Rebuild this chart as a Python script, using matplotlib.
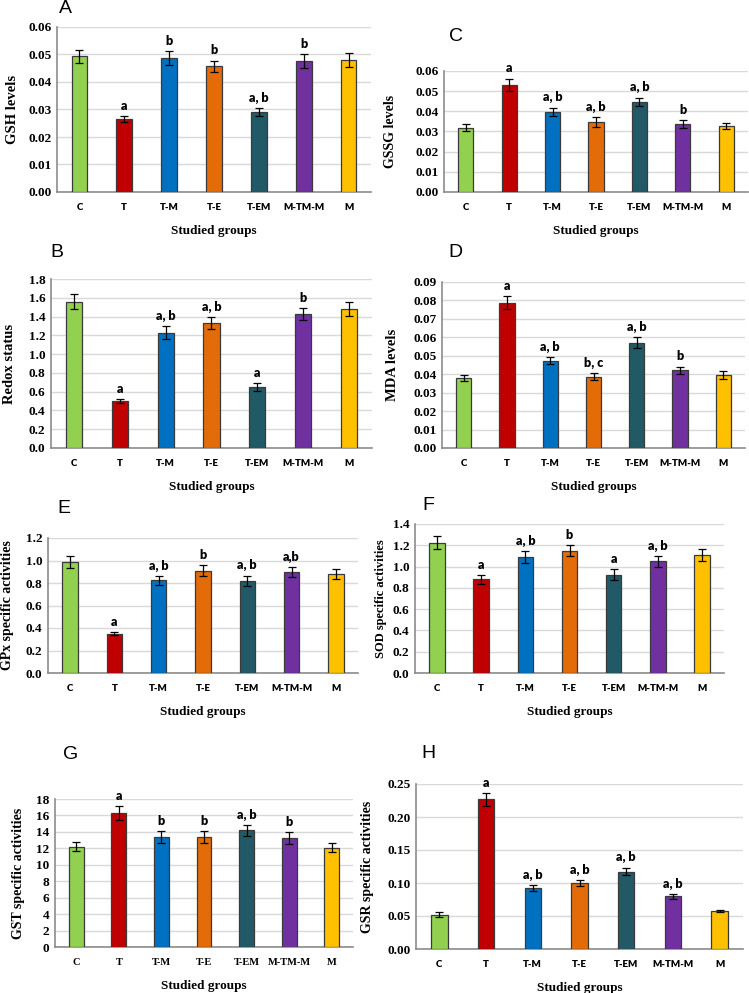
import matplotlib
matplotlib.use("Agg")
import matplotlib.pyplot as plt
import numpy as np

groups = ["C", "T", "T-M", "T-E", "T-EM", "M-TM-M", "M"]
bar_colors = ["#92D050", "#C00000", "#0070C0", "#E36C09", "#215967", "#7030A0", "#FFC000"]

gsh = [0.0493, 0.0265, 0.0486, 0.0458, 0.0290, 0.0475, 0.0479]
gsh_err = [0.0024, 0.0012, 0.0025, 0.0020, 0.0015, 0.0025, 0.0026]
gsh_sig = ["", "a", "b", "b", "a, b", "b", ""]

gssg = [0.0319, 0.0532, 0.0397, 0.0345, 0.0446, 0.0337, 0.0327]
gssg_err = [0.0018, 0.0030, 0.0022, 0.0025, 0.0022, 0.0018, 0.0017]
gssg_sig = ["", "a", "a, b", "a, b", "a, b", "b", ""]

redox = [1.56, 0.50, 1.23, 1.33, 0.65, 1.426, 1.48]
redox_err = [0.08, 0.02, 0.065, 0.065, 0.04, 0.06, 0.07]
redox_sig = ["", "a", "a, b", "a, b", "a", "b", ""]

mda = [0.0380, 0.0787, 0.0474, 0.0387, 0.0571, 0.0421, 0.0396]
mda_err = [0.0015, 0.0036, 0.0020, 0.0020, 0.0030, 0.0020, 0.0020]
mda_sig = ["", "a", "a, b", "b, c", "a, b", "b", ""]

gpx = [0.987, 0.350, 0.824, 0.910, 0.821, 0.898, 0.880]
gpx_err = [0.050, 0.015, 0.040, 0.050, 0.045, 0.045, 0.045]
gpx_sig = ["", "a", "a, b", "b", "a, b", "a,b", ""]

sod = [1.224, 0.879, 1.086, 1.149, 0.923, 1.049, 1.111]
sod_err = [0.062, 0.040, 0.056, 0.053, 0.053, 0.050, 0.056]
sod_sig = ["", "a", "a, b", "b", "a", "a, b", ""]

gst = [12.22, 16.29, 13.36, 13.36, 14.17, 13.24, 12.10]
gst_err = [0.57, 0.80, 0.70, 0.70, 0.70, 0.70, 0.60]
gst_sig = ["", "a", "b", "b", "a, b", "b", ""]

gsr = [0.0519, 0.2268, 0.0922, 0.0998, 0.1174, 0.0796, 0.0575]
gsr_err = [0.0035, 0.0100, 0.0050, 0.0045, 0.0060, 0.0035, 0.0020]
gsr_sig = ["", "a", "a, b", "a, b", "a, b", "a, b", ""]

W, H = 749, 993
fig = plt.figure(figsize=(W / 100, H / 100), dpi=100)

SERIF = "Liberation Serif"
SANS = "Lato"

panels = [
    # letter, values, err, sig, ylabel, ymax, step, fmt, (l, r, t, b), ylabel_x, letter_xy, serif_x, ylsize
    ("A", gsh, gsh_err, gsh_sig, "GSH levels", 0.06, 0.01, "%.2f", (57, 371, 27, 192), 12, (59, 0), False, 10.5),
    ("C", gssg, gssg_err, gssg_sig, "GSSG levels", 0.06, 0.01, "%.2f", (444, 748, 71, 192), 390, (449, 28), False, 10),
    ("B", redox, redox_err, redox_sig, "Redox status", 1.8, 0.2, "%.1f", (51, 372, 279, 448), 9, (50, 244), False, 10.5),
    ("D", mda, mda_err, mda_sig, "MDA levels", 0.09, 0.01, "%.2f", (442, 745, 282, 448), 393, (448, 244), False, 10.5),
    ("E", gpx, gpx_err, gpx_sig, "GPx specific activities", 1.2, 0.2, "%.1f", (48, 358, 538, 673), 7, (57, 500), False, 10),
    ("F", sod, sod_err, sod_sig, "SOD specific activities", 1.4, 0.2, "%.1f", (415, 724, 524, 673), 381, (422, 497), False, 9),
    ("G", gst, gst_err, gst_sig, "GST specific activities", 18, 2, "%d", (55, 353, 799, 947), 18, (63, 746), True, 10),
    ("H", gsr, gsr_err, gsr_sig, "GSR specific activities", 0.25, 0.05, "%.2f", (416, 743, 784, 949), 368, (421, 745), False, 10),
]

x = np.arange(len(groups))
for (letter, vals, errs, sig, ylab, ymax, step, fmt, box, ylx, lxy, serif_x, ylsize) in panels:
    l, r, t, b = box
    ax = fig.add_axes([l / W, 1 - b / H, (r - l) / W, (b - t) / H])
    ax.bar(x, vals, width=0.35, color=bar_colors, edgecolor="#3a3a3a", linewidth=0.9, zorder=3)
    ax.errorbar(x, vals, yerr=errs, fmt="none", ecolor="black", elinewidth=0.9, capsize=3, capthick=0.9, zorder=4)
    ax.set_xlim(-0.5, len(groups) - 0.5)
    ax.set_ylim(0, ymax)
    ticks = np.arange(0, ymax + step / 2, step)
    ax.set_yticks(ticks)
    ax.set_yticklabels([fmt % v for v in ticks], fontfamily=SERIF, fontweight="bold", fontsize=9.5)
    ax.set_xticks(x)
    xfam = SERIF if serif_x else SANS
    ax.set_xticklabels(groups, fontfamily=xfam, fontweight="bold" if serif_x else "heavy",
                       fontsize=7.5 if serif_x else 7)
    ax.tick_params(axis="both", length=0)
    ax.tick_params(axis="x", pad=8)
    ax.tick_params(axis="y", pad=4)
    ax.yaxis.grid(True, color="#D9D9D9", linewidth=1.0, zorder=0)
    ax.set_axisbelow(True)
    for s in ["top", "right"]:
        ax.spines[s].set_visible(False)
    ax.spines["left"].set_color("#8c8c8c")
    ax.spines["bottom"].set_color("#8c8c8c")
    ax.spines["left"].set_linewidth(1.2)
    ax.spines["bottom"].set_linewidth(1.2)
    ax.set_ylabel(ylab, fontfamily=SERIF, fontweight="bold", fontsize=ylsize)
    ax.yaxis.label.set_va("center")
    ax.yaxis.set_label_coords((ylx - l) / (r - l), 0.5)
    ax.set_xlabel("Studied groups", fontfamily=SERIF, fontweight="bold", fontsize=9.5)
    ax.xaxis.set_label_coords(0.5, -(33) / (b - t))
    for xi, v, e, s in zip(x, vals, errs, sig):
        if s:
            ax.annotate(s, (xi, v + e), xytext=(0, 3), textcoords="offset points",
                        ha="center", va="bottom", fontfamily=SANS, fontweight="heavy", fontsize=9)
    fig.text(lxy[0] / W, 1 - lxy[1] / H, letter, fontfamily="Liberation Sans", fontsize=14,
             ha="left", va="top")

fig.savefig("out.png", dpi=100)
